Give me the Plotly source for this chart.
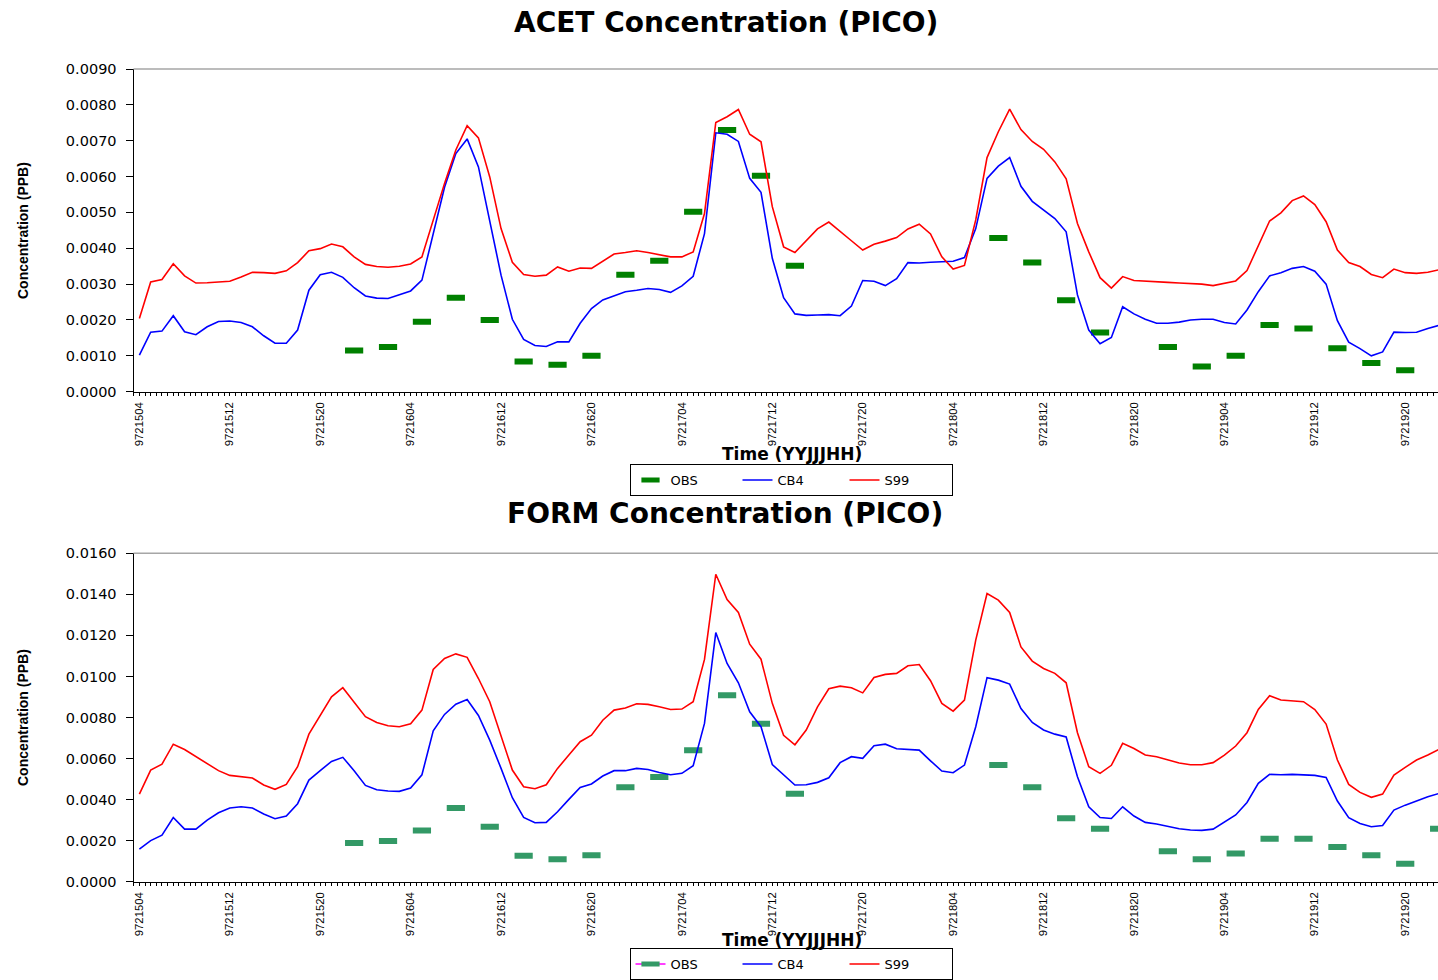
import plotly.graph_objects as go

# ---------------- data ----------------
# hourly time stamps YYJJJHH, starting 97 day 215 hour 04
times = []
for i in range(116):
    day = 215 + (i + 4) // 24
    hr = (i + 4) % 24
    times.append("97%d%02d" % (day, hr))
hours = list(range(len(times)))
tick_idx = hours[::8]
tick_labels = [times[i] for i in tick_idx]

acet_s99 = [
    0.00204, 0.00306, 0.00313, 0.00357, 0.00323, 0.00303, 0.00304, 0.00306, 0.00308, 0.00320,
    0.00333, 0.00332, 0.00330, 0.00337, 0.00360, 0.00393, 0.00399, 0.00412, 0.00404, 0.00376,
    0.00355, 0.00349, 0.00347, 0.00350, 0.00356, 0.00376, 0.00479, 0.00581, 0.00674, 0.00742,
    0.00708, 0.00599, 0.00455, 0.00361, 0.00327, 0.00322, 0.00325, 0.00348, 0.00336, 0.00345,
    0.00344, 0.00364, 0.00384, 0.00388, 0.00393, 0.00388, 0.00383, 0.00376, 0.00376, 0.00390,
    0.00497, 0.00751, 0.00767, 0.00787, 0.00718, 0.00697, 0.00516, 0.00404, 0.00388, 0.00421,
    0.00454, 0.00473, 0.00448, 0.00421, 0.00395, 0.00411, 0.00420, 0.00430, 0.00454, 0.00467,
    0.00440, 0.00376, 0.00342, 0.00352, 0.00479, 0.00653, 0.00725, 0.00788, 0.00731, 0.00698,
    0.00676, 0.00641, 0.00594, 0.00469, 0.00390, 0.00318, 0.00289, 0.00321, 0.00310, 0.00309,
    0.00308, 0.00305, 0.00303, 0.00302, 0.00300, 0.00296, 0.00303, 0.00309, 0.00338, 0.00406,
    0.00476, 0.00499, 0.00533, 0.00546, 0.00522, 0.00474, 0.00395, 0.00360, 0.00349, 0.00327,
    0.00318, 0.00342, 0.00332, 0.00330, 0.00333, 0.00340,
]
acet_cb4 = [
    0.00102, 0.00166, 0.00169, 0.00212, 0.00167, 0.00159, 0.00181, 0.00196, 0.00197, 0.00193,
    0.00181, 0.00156, 0.00135, 0.00135, 0.00172, 0.00283, 0.00326, 0.00333, 0.00319, 0.00290,
    0.00267, 0.00261, 0.00260, 0.00270, 0.00281, 0.00311, 0.00440, 0.00570, 0.00664, 0.00705,
    0.00627, 0.00479, 0.00325, 0.00202, 0.00146, 0.00129, 0.00126, 0.00139, 0.00139, 0.00191,
    0.00232, 0.00256, 0.00268, 0.00279, 0.00283, 0.00288, 0.00285, 0.00277, 0.00295, 0.00322,
    0.00441, 0.00722, 0.00718, 0.00698, 0.00595, 0.00556, 0.00372, 0.00262, 0.00217, 0.00213,
    0.00214, 0.00215, 0.00212, 0.00239, 0.00310, 0.00308, 0.00296, 0.00315, 0.00360, 0.00359,
    0.00361, 0.00363, 0.00364, 0.00374, 0.00455, 0.00595, 0.00629, 0.00653, 0.00573, 0.00531,
    0.00507, 0.00483, 0.00446, 0.00270, 0.00172, 0.00134, 0.00151, 0.00237, 0.00217, 0.00202,
    0.00191, 0.00191, 0.00194, 0.00200, 0.00202, 0.00202, 0.00193, 0.00189, 0.00228, 0.00279,
    0.00323, 0.00332, 0.00344, 0.00349, 0.00336, 0.00300, 0.00198, 0.00138, 0.00120, 0.00100,
    0.00111, 0.00166, 0.00165, 0.00166, 0.00176, 0.00185,
]
form_s99 = [
    0.00427, 0.00544, 0.00573, 0.00670, 0.00644, 0.00609, 0.00576, 0.00541, 0.00518, 0.00511,
    0.00505, 0.00471, 0.00450, 0.00474, 0.00560, 0.00719, 0.00808, 0.00901, 0.00945, 0.00877,
    0.00804, 0.00776, 0.00760, 0.00755, 0.00769, 0.00836, 0.01034, 0.01088, 0.01110, 0.01093,
    0.00990, 0.00877, 0.00706, 0.00544, 0.00463, 0.00453, 0.00472, 0.00552, 0.00617, 0.00682,
    0.00714, 0.00787, 0.00836, 0.00846, 0.00867, 0.00864, 0.00852, 0.00839, 0.00841, 0.00877,
    0.01083, 0.01498, 0.01375, 0.01312, 0.01157, 0.01084, 0.00869, 0.00713, 0.00667, 0.00739,
    0.00852, 0.00940, 0.00953, 0.00945, 0.00920, 0.00995, 0.01010, 0.01015, 0.01052, 0.01058,
    0.00979, 0.00869, 0.00831, 0.00885, 0.01177, 0.01404, 0.01372, 0.01312, 0.01144, 0.01075,
    0.01039, 0.01015, 0.00969, 0.00726, 0.00560, 0.00528, 0.00567, 0.00674, 0.00649, 0.00617,
    0.00609, 0.00593, 0.00578, 0.00570, 0.00570, 0.00580, 0.00617, 0.00661, 0.00726, 0.00839,
    0.00906, 0.00885, 0.00881, 0.00877, 0.00839, 0.00768, 0.00593, 0.00474, 0.00435, 0.00411,
    0.00427, 0.00519, 0.00557, 0.00593, 0.00617, 0.00645,
]
form_cb4 = [
    0.00159, 0.00200, 0.00227, 0.00313, 0.00256, 0.00256, 0.00300, 0.00336, 0.00359, 0.00365,
    0.00359, 0.00330, 0.00307, 0.00320, 0.00380, 0.00495, 0.00541, 0.00586, 0.00606, 0.00541,
    0.00469, 0.00448, 0.00442, 0.00440, 0.00456, 0.00521, 0.00735, 0.00815, 0.00865, 0.00888,
    0.00810, 0.00690, 0.00552, 0.00409, 0.00313, 0.00287, 0.00289, 0.00341, 0.00401, 0.00459,
    0.00476, 0.00515, 0.00541, 0.00541, 0.00552, 0.00547, 0.00532, 0.00521, 0.00528, 0.00565,
    0.00771, 0.01214, 0.01063, 0.00969, 0.00828, 0.00755, 0.00571, 0.00519, 0.00471, 0.00472,
    0.00484, 0.00506, 0.00580, 0.00609, 0.00601, 0.00662, 0.00670, 0.00648, 0.00644, 0.00641,
    0.00589, 0.00539, 0.00531, 0.00568, 0.00755, 0.00994, 0.00982, 0.00963, 0.00844, 0.00776,
    0.00739, 0.00719, 0.00705, 0.00511, 0.00365, 0.00313, 0.00308, 0.00365, 0.00320, 0.00289,
    0.00281, 0.00268, 0.00258, 0.00252, 0.00250, 0.00256, 0.00289, 0.00325, 0.00386, 0.00479,
    0.00523, 0.00521, 0.00523, 0.00521, 0.00518, 0.00508, 0.00393, 0.00312, 0.00284, 0.00268,
    0.00274, 0.00349, 0.00373, 0.00393, 0.00414, 0.00430,
]
obs_hours = [19, 22, 25, 28, 31, 34, 37, 40, 43, 46, 49, 52, 55, 58,
             76, 79, 82, 85, 91, 94, 97, 100, 103, 106, 109, 112, 115]
acet_obs = [0.00115, 0.00125, 0.00195, 0.00262, 0.00200, 0.00084, 0.00075, 0.00100, 0.00326,
            0.00365, 0.00502, 0.00730, 0.00602, 0.00351, 0.00429, 0.00360, 0.00255, 0.00165,
            0.00125, 0.00070, 0.00100, 0.00186, 0.00176, 0.00121, 0.00080, 0.00060, None]
form_obs = [0.00189, 0.00198, 0.00249, 0.00359, 0.00268, 0.00127, 0.00109, 0.00129, 0.00460,
            0.00510, 0.00640, 0.00909, 0.00770, 0.00429, 0.00568, 0.00460, 0.00309, 0.00258,
            0.00148, 0.00109, 0.00138, 0.00209, 0.00209, 0.00169, 0.00129, 0.00088, 0.00258]

# full hourly OBS series with gaps (so the OBS line is never joined)
form_obs_full = [None] * len(hours)
for h, v in zip(obs_hours, form_obs):
    form_obs_full[h] = v

# ---------------- figure ----------------
W, H = 1438, 980
fig = go.Figure()

BLUE = "#0000FF"
RED = "#FF0000"
lw = 1.6

# top panel
fig.add_trace(go.Scatter(x=obs_hours, y=acet_obs, mode="markers", name="OBS",
                         marker=dict(symbol="line-ew", size=13, color="#008000",
                                     line=dict(width=6, color="#008000")),
                         xaxis="x", yaxis="y", legend="legend"))
fig.add_trace(go.Scatter(x=hours, y=acet_cb4, mode="lines", name="CB4",
                         line=dict(color=BLUE, width=lw), xaxis="x", yaxis="y", legend="legend"))
fig.add_trace(go.Scatter(x=hours, y=acet_s99, mode="lines", name="S99",
                         line=dict(color=RED, width=lw), xaxis="x", yaxis="y", legend="legend"))

# bottom panel
fig.add_trace(go.Scatter(x=hours, y=form_obs_full, mode="lines+markers", name="OBS",
                         connectgaps=False, line=dict(color="#FF00FF", width=lw),
                         marker=dict(symbol="line-ew", size=13, color="#339966",
                                     line=dict(width=6, color="#339966")),
                         xaxis="x2", yaxis="y2", legend="legend2"))
fig.add_trace(go.Scatter(x=hours, y=form_cb4, mode="lines", name="CB4",
                         line=dict(color=BLUE, width=lw), xaxis="x2", yaxis="y2", legend="legend2"))
fig.add_trace(go.Scatter(x=hours, y=form_s99, mode="lines", name="S99",
                         line=dict(color=RED, width=lw), xaxis="x2", yaxis="y2", legend="legend2"))

def px_x(p):
    return p / W

def px_y(p):
    return 1 - p / H

xdom = [px_x(133.5), 1.0]
xrange_ = [-0.52, 114.9]

tickfont_x = dict(family="Liberation Sans, Arial", size=11.3, color="black")
tickfont_y = dict(family="DejaVu Sans, Verdana, sans-serif", size=14.5, color="black")

def xaxis_cfg(anchor):
    return dict(domain=xdom, range=xrange_, anchor=anchor, showgrid=False, zeroline=False,
                showline=True, linecolor="black", linewidth=1,
                tickmode="array", tickvals=tick_idx, ticktext=tick_labels, tickangle=-90,
                ticks="outside", ticklen=3, tickcolor="black", tickfont=tickfont_x,
                ticklabelstandoff=2,
                minor=dict(dtick=0.5, tick0=0, ticks="outside", ticklen=3, tickcolor="black"))

def yaxis_cfg(anchor, dom, rng, dt):
    return dict(domain=dom, range=rng, anchor=anchor, showgrid=False, zeroline=False,
                showline=True, linecolor="black", linewidth=1,
                tickmode="linear", tick0=0, dtick=dt, tickformat=".4f",
                ticks="outside", ticklen=7, tickcolor="black", tickfont=tickfont_y,
                ticklabelstandoff=6)

fig.update_layout(
    width=W, height=H,
    margin=dict(l=0, r=0, t=0, b=0, autoexpand=False),
    paper_bgcolor="white", plot_bgcolor="white",
    xaxis=xaxis_cfg("y"),
    yaxis=yaxis_cfg("x", [px_y(391.7), px_y(69)], [0, 0.009], 0.001),
    xaxis2=xaxis_cfg("y2"),
    yaxis2=yaxis_cfg("x2", [px_y(881.7), px_y(553.3)], [0, 0.016], 0.002),
    showlegend=True,
)

legend_common = dict(orientation="h", xanchor="center",
                     bgcolor="white", bordercolor="black", borderwidth=1,
                     font=dict(family="DejaVu Sans, Arial", size=13, color="black"),
                     itemwidth=30, tracegroupgap=0, entrywidth=62, entrywidthmode="pixels")
fig.update_layout(
    legend=dict(x=px_x(791), y=px_y(480), yanchor="middle", **legend_common),
    legend2=dict(x=px_x(791), y=0, yanchor="bottom", **legend_common),
)

# top border lines of plot areas
for yref, xref in (("y domain", "x domain"), ("y2 domain", "x2 domain")):
    fig.add_shape(type="line", xref=xref, yref=yref, x0=0, x1=1, y0=1, y1=1,
                  line=dict(color="#A6A6A6", width=1.5))

title_font = dict(family="DejaVu Sans, Arial Black, sans-serif", size=28, color="black", weight="bold")
axis_title_font = dict(family="DejaVu Sans, Arial, sans-serif", size=17, color="black", weight="bold")
ytitle_font = dict(family="Liberation Sans, Arial", size=14, color="black", weight="bold")

annots = [
    dict(text="ACET Concentration (PICO)", x=px_x(726), y=px_y(23), font=title_font),
    dict(text="FORM Concentration (PICO)", x=px_x(725), y=px_y(513), font=title_font),
    dict(text="Time (YYJJJHH)", x=px_x(792), y=px_y(454), font=axis_title_font),
    dict(text="Time (YYJJJHH)", x=px_x(792), y=px_y(940), font=axis_title_font),
    dict(text="Concentration (PPB)", x=px_x(23), y=px_y(231), font=ytitle_font, textangle=-90),
    dict(text="Concentration (PPB)", x=px_x(23), y=px_y(718), font=ytitle_font, textangle=-90),
]
for a in annots:
    fig.add_annotation(xref="paper", yref="paper", showarrow=False,
                       xanchor="center", yanchor="middle", **a)

fig.write_html("out.html")
